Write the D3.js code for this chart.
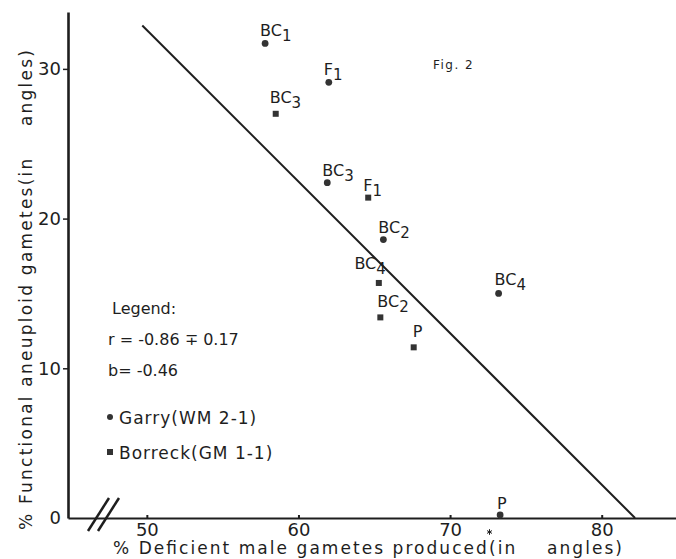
<html>
<head>
	<title>Fig. 2</title>
	<script src="https://d3js.org/d3.v7.min.js"></script>
	<style type="text/css">
		body {
			margin: 0;
			padding: 0;
			background: #fff;
		}
		svg text {
			font-family: "DejaVu Sans", sans-serif;
			fill: #1e1e1e;
			white-space: pre;
		}
	</style>
</head>
<body>

<div id="chart"></div>

<script>

// Garry (WM 2-1), circles
var garryGen = ["BC1", "F1", "BC3", "BC2", "BC4", "P"];
var garryX = [57.8, 62.0, 61.9, 65.6, 73.2, 73.3];
var garryY = [31.7, 29.1, 22.4, 18.6, 15.0, 0.2];

// Borreck (GM 1-1), squares
var borreckGen = ["BC3", "F1", "BC4", "BC2", "P"];
var borreckX = [58.5, 64.6, 65.3, 65.4, 67.6];
var borreckY = [27.0, 21.4, 15.7, 13.4, 11.4];

// regression line end points
var fitX = [49.7, 82.2];
var fitY = [32.9, 0];

var xTicks = [50, 60, 70, 80];
var yTicks = [0, 10, 20, 30];

var legendLines = ["Legend:", "r = -0.86 \u2213 0.17", "b= -0.46"];
var seriesNames = ["Garry(WM 2-1)", "Borreck(GM 1-1)"];

var xTitle = "% Deficient male gametes produced(in    angles)";
var yTitle = "% Functional aneuploid gametes(in    angles)";

var ww = 676,
	wh = 559;

var x = d3.scaleLinear().domain([44.8, 84.9]).range([68, 676]);
var y = d3.scaleLinear().domain([0, 33.8]).range([518, 12]);

var ink = "#1e1e1e";

var svg = d3.select("#chart").append("svg")
	.attr("width", ww)
	.attr("height", wh);

// axes
var yAxis = svg.append("g")
	.attr("transform", "translate(" + x.range()[0] + ",0)")
	.call(d3.axisLeft(y).tickValues(yTicks).tickFormat(d3.format("d"))
		.tickSizeInner(5).tickSizeOuter(0).tickPadding(2));
yAxis.selectAll("text").style("font-size", "18px");
yAxis.select(".domain").attr("stroke", ink).attr("stroke-width", 2.6);
yAxis.selectAll(".tick line").attr("stroke", ink).attr("stroke-width", 1.5);
yAxis.selectAll(".tick").filter(function(d) { return d === 0; }).select("line").remove();

var xAxis = svg.append("g")
	.attr("transform", "translate(0," + y(0) + ")")
	.call(d3.axisBottom(x).tickValues(xTicks).tickFormat(d3.format("d"))
		.tickSizeInner(-3).tickSizeOuter(0).tickPadding(5));
xAxis.selectAll("text").style("font-size", "18px");
xAxis.select(".domain").attr("stroke", ink).attr("stroke-width", 2);
xAxis.selectAll(".tick line").attr("stroke", ink).attr("stroke-width", 2);

// axis break "//"
[0, 10].forEach(function(off) {
	svg.append("line")
		.attr("x1", 88 + off).attr("y1", 531)
		.attr("x2", 109 + off).attr("y2", 498)
		.attr("stroke", ink)
		.attr("stroke-width", 2.5);
});

// small star mark under the parent point
svg.append("path")
	.attr("transform", "translate(" + x(72.6) + ",532)")
	.attr("d", d3.symbol(d3.symbolAsterisk, 22)())
	.attr("fill", "none")
	.attr("stroke", ink)
	.attr("stroke-width", 1);

// axis titles
svg.append("text")
	.attr("x", 113)
	.attr("y", 554)
	.attr("textLength", 509)
	.attr("lengthAdjust", "spacing")
	.style("font-size", "17px")
	.text(xTitle);

svg.append("text")
	.attr("transform", "translate(32,290) rotate(-90)")
	.attr("text-anchor", "middle")
	.attr("textLength", 480)
	.attr("lengthAdjust", "spacing")
	.style("font-size", "17px")
	.text(yTitle);

// regression line
var line = d3.line()
	.x(function(d) { return x(d[0]); })
	.y(function(d) { return y(d[1]); });

svg.append("path")
	.datum(d3.zip(fitX, fitY))
	.attr("d", line)
	.attr("fill", "none")
	.attr("stroke", ink)
	.attr("stroke-width", 2);

// label nudges (pixels) where the default doesn't fit
var nudge = {
	"g-BC4": { dx: -4, dy: -8 },
	"g-P": { dx: -3, dy: -6 },
	"b-BC3": { dx: -6, dy: -11 },
	"b-BC4": { dx: 7, dy: -14, anchor: "end" },
	"b-BC2": { dx: -3, dy: -10 },
	"b-P": { dx: -1, dy: -10 }
};

function addLabel(key, gen, px, py) {
	var n = nudge[key] || { dx: -5, dy: -7 };
	var m = gen.match(/^([A-Z]+)(\d?)$/);
	var t = svg.append("text")
		.attr("x", px + n.dx)
		.attr("y", py + n.dy)
		.attr("text-anchor", n.anchor || "start")
		.style("font-size", "16px");
	t.append("tspan").text(m[1]);
	if (m[2]) {
		t.append("tspan")
			.attr("dy", 5)
			.style("font-size", "15px")
			.text(m[2]);
	}
}

var garry = d3.range(garryGen.length).map(function(i) {
	return { gen: garryGen[i], x: garryX[i], y: garryY[i] };
});
var borreck = d3.range(borreckGen.length).map(function(i) {
	return { gen: borreckGen[i], x: borreckX[i], y: borreckY[i] };
});

svg.append("g").selectAll("circle")
	.data(garry)
	.enter().append("circle")
	.attr("cx", function(d) { return x(d.x); })
	.attr("cy", function(d) { return y(d.y); })
	.attr("r", 3.4)
	.attr("fill", "#333");

svg.append("g").selectAll("rect")
	.data(borreck)
	.enter().append("rect")
	.attr("x", function(d) { return x(d.x) - 3; })
	.attr("y", function(d) { return y(d.y) - 3; })
	.attr("width", 6)
	.attr("height", 6)
	.attr("fill", "#333");

garry.forEach(function(d) { addLabel("g-" + d.gen, d.gen, x(d.x), y(d.y)); });
borreck.forEach(function(d) { addLabel("b-" + d.gen, d.gen, x(d.x), y(d.y)); });

// figure number
svg.append("text")
	.attr("x", 433)
	.attr("y", 69)
	.style("font-size", "12px")
	.style("letter-spacing", "1.5px")
	.text("Fig. 2");

// legend
svg.append("g").selectAll("text")
	.data(legendLines)
	.enter().append("text")
	.attr("x", function(d, i) { return i === 0 ? 112 : 108; })
	.attr("y", function(d, i) { return [314, 345, 376][i]; })
	.style("font-size", "16px")
	.text(function(d) { return d; });

svg.append("circle")
	.attr("cx", 110).attr("cy", 417)
	.attr("r", 3)
	.attr("fill", "#333");
svg.append("rect")
	.attr("x", 107).attr("y", 449)
	.attr("width", 6).attr("height", 6)
	.attr("fill", "#333");

svg.append("g").selectAll("text")
	.data(seriesNames)
	.enter().append("text")
	.attr("x", 119)
	.attr("y", function(d, i) { return [424, 459][i]; })
	.style("font-size", "17px")
	.style("letter-spacing", "1px")
	.text(function(d) { return d; });

</script>
</body>
</html>
